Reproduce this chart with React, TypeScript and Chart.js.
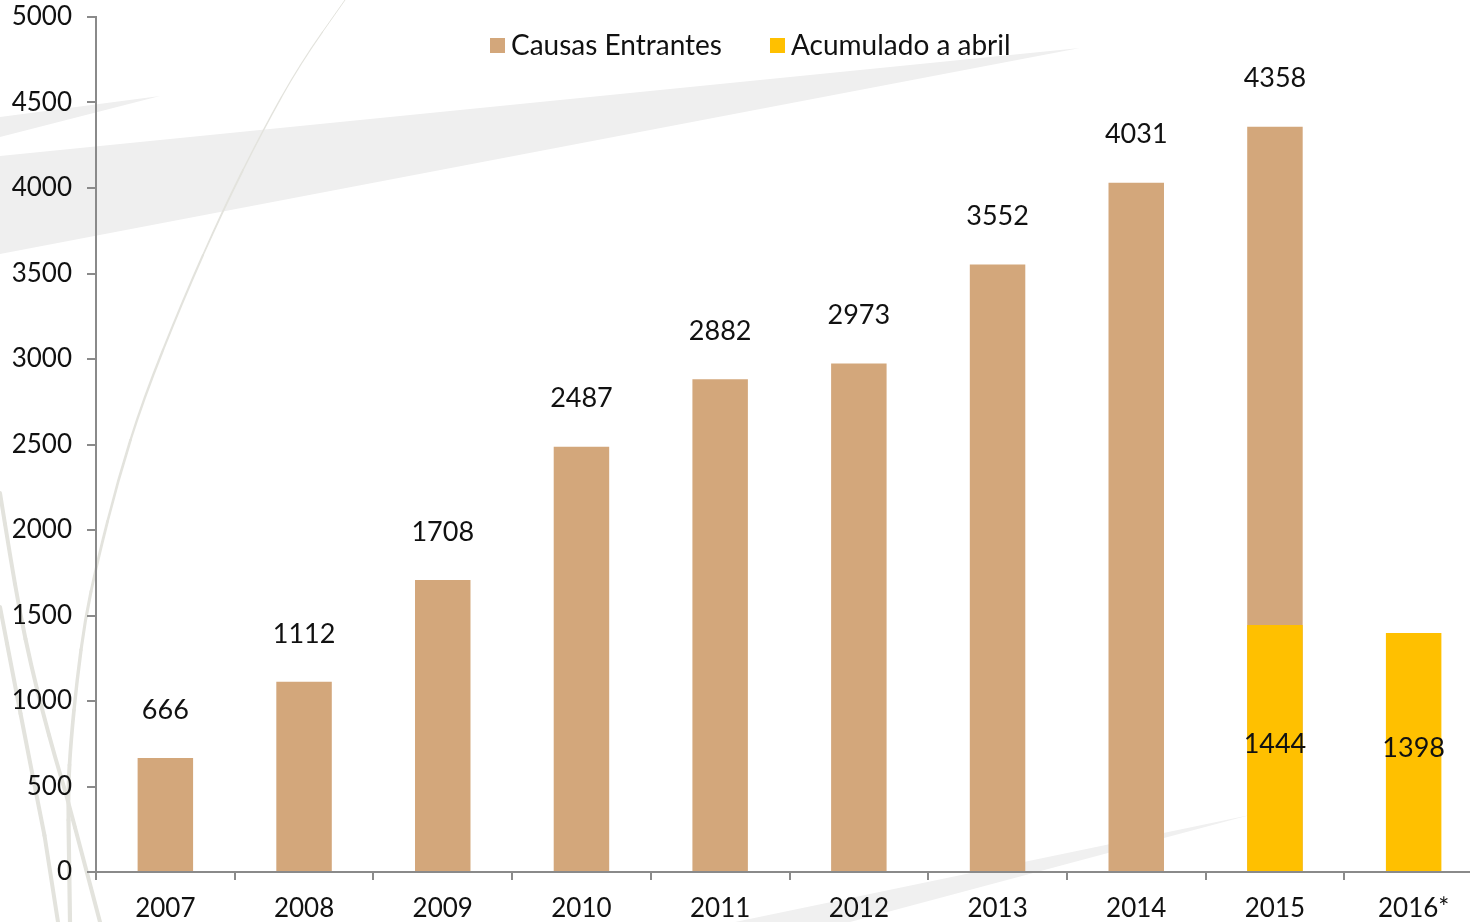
import { useEffect, useRef } from "react";
import { Chart, registerables } from "chart.js";

Chart.register(...registerables);

const categories = ["2007", "2008", "2009", "2010", "2011", "2012", "2013", "2014", "2015", "2016*"];
const causasEntrantes: (number | null)[] = [666, 1112, 1708, 2487, 2882, 2973, 3552, 4031, 4358, null];
const acumuladoAbril: (number | null)[] = [null, null, null, null, null, null, null, null, 1444, 1398];
const seriesLabels = ["Causas Entrantes", "Acumulado a abril"];
const seriesColors = ["#D3A77B", "#FFC000"];

const FONT = "Lato, 'Open Sans', sans-serif";
const AXIS_COLOR = "#8a8a8a";

type Pt = [number, number];

const smoothStroke = (ctx: CanvasRenderingContext2D, pts: Pt[], w0: number, w1: number) => {
  const n = pts.length;
  const mid = (a: Pt, b: Pt): Pt => [(a[0] + b[0]) / 2, (a[1] + b[1]) / 2];
  for (let i = 0; i < n - 1; i++) {
    const start: Pt = i === 0 ? pts[0] : mid(pts[i - 1], pts[i]);
    const end: Pt = i === n - 2 ? pts[n - 1] : mid(pts[i], pts[i + 1]);
    ctx.lineWidth = w0 + ((w1 - w0) * i) / (n - 2);
    ctx.beginPath();
    ctx.moveTo(start[0], start[1]);
    if (i === 0 || i === n - 2) ctx.lineTo(end[0], end[1]);
    else ctx.quadraticCurveTo(pts[i][0], pts[i][1], end[0], end[1]);
    ctx.stroke();
  }
};

const backgroundPlugin = {
  id: "bgDecor",
  beforeDraw(chart: any) {
    const ctx = chart.ctx as CanvasRenderingContext2D;
    ctx.save();
    ctx.fillStyle = "#ffffff";
    ctx.fillRect(0, 0, chart.width, chart.height);

    ctx.fillStyle = "#efefef";
    ctx.beginPath();
    ctx.moveTo(0, 156);
    ctx.lineTo(1080, 48);
    ctx.lineTo(0, 254);
    ctx.closePath();
    ctx.fill();

    ctx.beginPath();
    ctx.moveTo(0, 117);
    ctx.lineTo(160, 96);
    ctx.lineTo(0, 137);
    ctx.closePath();
    ctx.fill();

    ctx.fillStyle = "#f0f0f0";
    ctx.beginPath();
    ctx.moveTo(1250, 815);
    ctx.lineTo(735, 922);
    ctx.lineTo(850, 922);
    ctx.closePath();
    ctx.fill();

    ctx.strokeStyle = "#e3e3dd";
    ctx.lineCap = "round";
    smoothStroke(
      ctx,
      [
        [345, 0], [300, 64], [263, 130], [223, 210], [183, 300], [143, 400],
        [118, 480], [97, 563], [85, 620], [77, 680], [71, 740], [68, 790], [69, 850], [70, 922],
      ],
      1,
      4.2
    );
    smoothStroke(ctx, [[0, 493], [10, 555], [20, 613], [31, 665], [43, 713], [55, 757], [67, 797], [83, 858], [100, 922]], 4, 4);
    smoothStroke(ctx, [[0, 607], [14, 680], [27, 747], [39, 808], [50, 863], [58, 922]], 4, 4);
    ctx.restore();
  },
};

const labelPlugin = {
  id: "valueLabels",
  afterDatasetsDraw(chart: any) {
    const ctx = chart.ctx as CanvasRenderingContext2D;
    ctx.save();
    ctx.font = `27px ${FONT}`;
    ctx.fillStyle = "#111111";
    ctx.textAlign = "center";
    ctx.textBaseline = "middle";
    chart.data.datasets.forEach((ds: any, i: number) => {
      const meta = chart.getDatasetMeta(i);
      meta.data.forEach((bar: any, j: number) => {
        const v = ds.data[j];
        if (v === null || v === undefined) return;
        const p = bar.getProps(["x", "y", "base"], true);
        const ty = i === 0 ? p.y - 48 : (p.y + p.base) / 2 - 4;
        ctx.fillText(String(v), p.x, ty);
      });
    });
    ctx.restore();
  },
  afterDraw(chart: any) {
    const ctx = chart.ctx as CanvasRenderingContext2D;
    ctx.save();
    ctx.font = `28px ${FONT}`;
    ctx.textBaseline = "alphabetic";
    ctx.textAlign = "left";
    let x = 490;
    chart.data.datasets.forEach((ds: any) => {
      ctx.fillStyle = ds.backgroundColor;
      ctx.fillRect(x, 38, 15, 15);
      ctx.fillStyle = "#111111";
      ctx.fillText(ds.label, x + 21, 55);
      x += 21 + ctx.measureText(ds.label).width + 48;
    });
    ctx.restore();
  },
};

export default function App() {
  const canvasRef = useRef<HTMLCanvasElement | null>(null);

  useEffect(() => {
    if (!canvasRef.current) return;
    const chart = new Chart(canvasRef.current, {
      type: "bar",
      data: {
        labels: categories,
        datasets: [
          {
            label: seriesLabels[0],
            data: causasEntrantes,
            backgroundColor: seriesColors[0],
            grouped: false,
            order: 2,
            barPercentage: 0.4,
            categoryPercentage: 1,
          },
          {
            label: seriesLabels[1],
            data: acumuladoAbril,
            backgroundColor: seriesColors[1],
            grouped: false,
            order: 1,
            barPercentage: 0.4,
            categoryPercentage: 1,
          },
        ],
      },
      options: {
        responsive: false,
        animation: false,
        layout: { padding: { top: 17, right: 17, left: 0, bottom: 0 } },
        plugins: {
          legend: { display: false },
          tooltip: { enabled: false },
        },
        scales: {
          x: {
            grid: {
              drawOnChartArea: false,
              drawTicks: true,
              tickLength: 8,
              color: AXIS_COLOR,
              lineWidth: 2,
              offset: true,
            },
            border: { display: true, color: AXIS_COLOR, width: 2 },
            ticks: {
              color: "#111111",
              font: { family: FONT, size: 26 },
              padding: 13,
              maxRotation: 0,
              autoSkip: false,
            },
            afterFit(scale: any) {
              scale.height = 50;
            },
          },
          y: {
            min: 0,
            max: 5000,
            grid: {
              drawOnChartArea: false,
              drawTicks: true,
              tickLength: 9,
              color: AXIS_COLOR,
              lineWidth: 2,
            },
            border: { display: true, color: AXIS_COLOR, width: 2 },
            ticks: {
              stepSize: 500,
              color: "#111111",
              font: { family: FONT, size: 26 },
              padding: 15,
              callback: (v: any) => String(v),
            },
            afterFit(scale: any) {
              scale.width = 96;
              scale.paddingTop = 0;
              scale.paddingBottom = 0;
            },
          },
        },
      },
      plugins: [backgroundPlugin, labelPlugin],
    });
    return () => chart.destroy();
  }, []);

  return (
    <div
      style={{
        position: "fixed",
        left: 0,
        top: 0,
        width: 1470,
        height: 922,
        overflow: "hidden",
        background: "#ffffff",
      }}
    >
      <canvas ref={canvasRef} width={1500} height={922} style={{ display: "block", width: 1500, height: 922 }} />
    </div>
  );
}
